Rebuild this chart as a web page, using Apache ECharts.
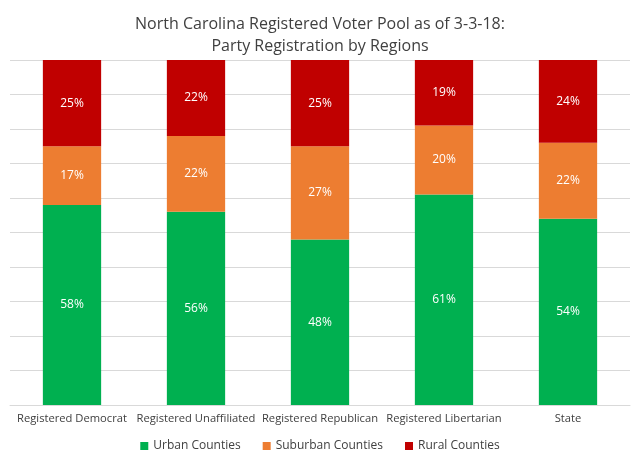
<!DOCTYPE html><html><head><meta charset="utf-8">
<script src="https://cdn.jsdelivr.net/npm/echarts@6/dist/echarts.min.js"></script>
<style>html,body{margin:0;padding:0;background:#fff}#c{width:640px;height:465px}</style></head><body><div id="c"></div>
<script>
const categories=["Registered Democrat","Registered Unaffiliated","Registered Republican","Registered Libertarian","State"];
const urban=[58,56,48,61,54];
const suburban=[17,22,27,20,22];
const rural=[25,22,25,19,24];
const font='"Open Sans", sans-serif';
const lbl={show:true,color:'#fff',fontSize:12,fontFamily:font,formatter:p=>p.value+'%'};
const chart=echarts.init(document.getElementById('c'));
chart.setOption({
 animation:false,
 title:{text:'North Carolina Registered Voter Pool as of 3-3-18:\nParty Registration by Regions',left:'center',top:8,
  textStyle:{fontSize:16,fontWeight:'normal',color:'#404040',fontFamily:font,lineHeight:22}},
 grid:{left:10,right:10,top:60,bottom:60},
 legend:{bottom:8,itemWidth:8,itemHeight:8,icon:'rect',itemGap:22,textStyle:{fontSize:12,color:'#404040',fontFamily:font}},
 xAxis:{type:'category',data:categories,axisTick:{show:false},axisLine:{lineStyle:{color:'#d9d9d9'}},
  axisLabel:{fontSize:11.2,color:'#404040',fontFamily:font,interval:0}},
 yAxis:{type:'value',min:0,max:100,interval:10,axisLabel:{show:false},splitLine:{lineStyle:{color:'#d9d9d9'}}},
 series:[
  {name:'Urban Counties',type:'bar',stack:'a',data:urban,barWidth:'47%',itemStyle:{color:'#00B050'},label:lbl},
  {name:'Suburban Counties',type:'bar',stack:'a',data:suburban,itemStyle:{color:'#ED7D31'},label:lbl},
  {name:'Rural Counties',type:'bar',stack:'a',data:rural,itemStyle:{color:'#C00000'},label:lbl}
 ]
});
</script></body></html>
